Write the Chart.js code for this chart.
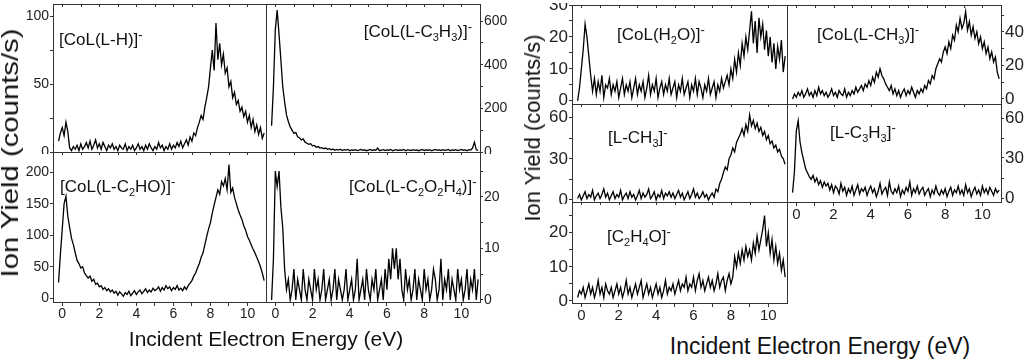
<!DOCTYPE html>
<html>
<head>
<meta charset="utf-8">
<script src="https://cdn.jsdelivr.net/npm/chart.js@4.4.0/dist/chart.umd.min.js"></script>
<style>
  body { margin: 0; width: 1024px; height: 360px; background: #fff; position: relative; overflow: hidden;
         font-family: Arial, "Liberation Sans", sans-serif; color: #111; }
  canvas { position: absolute; }
  .lbl { position: absolute; font-size: 17px; line-height: 1; white-space: nowrap; }
  .lbl sub { font-size: 11px; vertical-align: -4px; }
  .lbl sup { font-size: 13px; vertical-align: 6px; }
  .title { position: absolute; white-space: nowrap; line-height: 1; }
</style>
</head>
<body>

<div class="lbl" style="left:59px; top:28px">[CoL(L-H)]<sup>-</sup></div>
<div class="lbl" style="right:552px; top:20px">[CoL(L-C<sub>3</sub>H<sub>3</sub>)]<sup>-</sup></div>
<div class="lbl" style="left:60px; top:175px">[CoL(L-C<sub>2</sub>HO)]<sup>-</sup></div>
<div class="lbl" style="left:349px; top:175px">[CoL(L-C<sub>2</sub>O<sub>2</sub>H<sub>4</sub>)]<sup>-</sup></div>
<div class="lbl" style="left:617px; top:23px">[CoL(H<sub>2</sub>O)]<sup>-</sup></div>
<div class="lbl" style="left:817px; top:23px">[CoL(L-CH<sub>3</sub>)]<sup>-</sup></div>
<div class="lbl" style="left:608px; top:126px">[L-CH<sub>3</sub>]<sup>-</sup></div>
<div class="lbl" style="left:830px; top:121px">[L-C<sub>3</sub>H<sub>3</sub>]<sup>-</sup></div>
<div class="lbl" style="left:607px; top:225px">[C<sub>2</sub>H<sub>4</sub>O]<sup>-</sup></div>

<div class="title" style="font-size:21px; left:266px; top:328px; transform:translateX(-50%)">Incident Electron Energy (eV)</div>
<div class="title" style="font-size:23px; left:820px; top:335px; transform:translateX(-50%)">Incident Electron Energy (eV)</div>
<div class="title" style="font-size:24px; left:10px; top:153px; transform:translate(-50%,-50%) rotate(-90deg) scaleX(1.22)">Ion Yield (counts/s)</div>
<div class="title" style="font-size:22px; left:533px; top:128px; transform:translate(-50%,-50%) rotate(-90deg)">Ion Yield (counts/s)</div>

<script>
// energy grid of the scans: first point and step (eV)
const E_START = -0.2;
const E_STEP = 0.1;

const xTicks = [0, 1, 2, 3, 4, 5, 6, 7, 8, 9, 10];
const xTickLabels = [0, 2, 4, 6, 8, 10];

// ion yields, one value per 0.1 eV from -0.2 eV to 10.9 eV
const colLH = [
  8, 14, 18, 12, 22, 15, 3, 1, 4, 2,
  5, 1, 6, 2, 4, 7, 3, 8, 2, 5,
  9, 3, 6, 2, 7, 4, 1, 5, 3, 6,
  2, 4, 1, 5, 3, 2, 6, 1, 4, 2,
  5, 1, 3, 6, 2, 4, 1, 5, 2, 6,
  3, 1, 4, 2, 7, 3, 5, 1, 4, 2,
  6, 2, 5, 3, 7, 4, 8, 3, 6, 9,
  5, 11, 8, 14, 12, 18, 22, 27, 24, 33,
  40, 48, 62, 75, 60, 95, 68, 80, 64, 72,
  58, 62, 48, 52, 40, 44, 35, 38, 30, 33,
  26, 30, 22, 27, 18, 24, 15, 20, 13, 18,
  10, 14
];
const colLC3H3 = [
  120, 300, 560, 650, 540, 420, 300, 230, 170, 140,
  115, 100, 85, 90, 70, 65, 55, 60, 45, 40,
  35, 38, 28, 30, 22, 25, 18, 20, 15, 18,
  12, 15, 10, 14, 8, 12, 9, 13, 7, 11,
  9, 12, 6, 10, 8, 11, 7, 9, 12, 8,
  10, 6, 9, 12, 7, 10, 8, 18, 6, 9,
  11, 7, 10, 8, 12, 6, 9, 11, 7, 10,
  8, 12, 6, 10, 9, 7, 11, 8, 10, 6,
  9, 12, 7, 10, 8, 11, 6, 9, 12, 8,
  10, 7, 11, 8, 9, 12, 6, 10, 8, 11,
  7, 9, 12, 8, 10, 6, 11, 9, 18, 45,
  10, 8
];
const colLC2HO = [
  25, 70, 110, 150, 162, 130, 112, 95, 85, 72,
  60, 55, 48, 50, 40, 36, 32, 35, 27, 30,
  22, 24, 18, 20, 14, 17, 12, 15, 10, 13,
  8, 11, 5, 10, 7, 3, 9, 6, 11, 4,
  8, 12, 6, 10, 13, 7, 11, 15, 9, 13,
  10, 16, 12, 14, 18, 11, 17, 13, 20, 15,
  18, 12, 17, 14, 20, 13, 16, 12, 18, 14,
  20, 24, 28, 35, 40, 48, 55, 65, 72, 85,
  98, 110, 120, 135, 148, 160, 172, 165, 185, 178,
  190, 172, 212, 168, 175, 160, 150, 140, 132, 125,
  115, 108, 98, 92, 85, 78, 72, 65, 58, 50,
  40, 28
];
const colLC2O2H4 = [
  0, 8, 25, 22, 25, 18, 14, 6, 2, 4,
  0, 2, 6, 0, 4, 2, 0, 6, 2, 0,
  4, 2, 0, 6, 2, 4, 0, 2, 6, 0,
  2, 4, 0, 2, 6, 0, 4, 2, 0, 2,
  6, 0, 2, 4, 0, 2, 8, 0, 2, 4,
  0, 6, 2, 0, 4, 2, 6, 0, 2, 4,
  0, 6, 2, 8, 4, 10, 6, 10, 4, 8,
  2, 0, 6, 2, 4, 0, 2, 6, 0, 4,
  2, 0, 6, 2, 4, 0, 2, 6, 4, 0,
  2, 8, 0, 4, 2, 6, 0, 4, 2, 0,
  6, 2, 4, 0, 2, 6, 0, 4, 2, 6,
  0, 4
];
const colH2O = [
  0, 4, 10, 16, 24, 20, 14, 8, 3, 7,
  2, 6, 3, 8, 1, 5, 4, 7, 2, 5,
  3, 6, 1, 4, 7, 2, 5, 3, 6, 1,
  4, 7, 2, 5, 3, 6, 1, 4, 8, 2,
  5, 3, 7, 1, 4, 6, 2, 5, 3, 7,
  2, 4, 6, 1, 5, 3, 7, 2, 4, 6,
  1, 5, 3, 7, 2, 6, 4, 1, 5, 3,
  7, 2, 4, 6, 1, 5, 3, 7, 4, 6,
  8, 5, 10, 7, 13, 9, 15, 11, 18, 14,
  20, 16, 22, 28, 18, 25, 15, 26, 20, 24,
  16, 22, 14, 20, 12, 18, 10, 17, 13, 19,
  9, 14
];
const colLCH3 = [
  0, 3, 1, 4, 2, 5, 1, 3, 6, 2,
  4, 1, 5, 2, 7, 3, 5, 2, 4, 1,
  3, 6, 2, 4, 1, 5, 3, 2, 6, 1,
  4, 2, 5, 3, 7, 4, 6, 8, 5, 9,
  7, 11, 8, 13, 10, 16, 13, 18, 14, 12,
  9, 7, 5, 8, 3, 6, 2, 5, 1, 4,
  6, 2, 5, 3, 7, 4, 1, 5, 3, 6,
  4, 8, 6, 11, 9, 14, 12, 18, 21, 24,
  22, 28, 31, 27, 34, 30, 38, 35, 44, 40,
  48, 42, 45, 52, 41, 46, 38, 43, 36, 40,
  33, 37, 30, 34, 27, 31, 24, 28, 22, 25,
  16, 12
];
const lCH3 = [
  1, 4, 0, 3, 6, 1, 4, 2, 7, 0,
  3, 5, 1, 4, 8, 2, 5, 0, 3, 6,
  1, 4, 2, 7, 0, 3, 5, 1, 6, 2,
  4, 0, 3, 7, 1, 5, 2, 4, 8, 1,
  3, 6, 0, 4, 2, 7, 1, 5, 3, 6,
  2, 5, 1, 4, 7, 2, 5, 0, 3, 6,
  1, 4, 8, 2, 5, 1, 3, 6, 2, 4,
  0, 3, 5, 2, 8, 6, 12, 15, 20, 24,
  22, 30, 33, 38, 35, 42, 45, 48, 52, 47,
  55, 50, 62, 54, 58, 52, 56, 50, 53, 47,
  50, 44, 47, 41, 43, 38, 40, 35, 37, 32,
  30, 26
];
const lC3H3 = [
  4, 20, 50, 58, 42, 34, 28, 22, 19, 16,
  14, 17, 12, 15, 10, 13, 8, 12, 9, 11,
  6, 10, 4, 9, 7, 3, 11, 5, 8, 2,
  7, 4, 9, 2, 6, 10, 3, 7, 5, 8,
  2, 6, 9, 4, 7, 1, 5, 11, 3, 6,
  8, 2, 12, 5, 3, 7, 4, 9, 1, 6,
  3, 8, 5, 12, 2, 7, 4, 9, 3, 6,
  8, 2, 5, 7, 1, 6, 3, 9, 4, 2,
  6, 3, 7, 1, 5, 8, 2, 6, 4, 9,
  3, 6, 2, 10, 4, 7, 1, 5, 8, 3,
  6, 2, 9, 4, 7, 3, 8, 5, 2, 7,
  4, 6
];
const c2H4O = [
  1, 3, 2, 4, 1, 3, 5, 2, 4, 1,
  3, 6, 2, 4, 1, 5, 3, 2, 4, 1,
  3, 5, 2, 4, 1, 3, 6, 2, 4, 1,
  3, 5, 2, 4, 6, 1, 3, 5, 2, 4,
  1, 3, 5, 2, 4, 1, 3, 6, 2, 4,
  3, 5, 2, 4, 6, 3, 5, 4, 7, 3,
  5, 4, 7, 3, 6, 8, 4, 6, 3, 5,
  7, 4, 6, 3, 5, 8, 4, 6, 7, 3,
  6, 8, 5, 7, 13, 10, 14, 11, 15, 12,
  16, 13, 15, 12, 17, 14, 19, 15, 18, 21,
  25, 16, 20, 14, 18, 12, 16, 11, 14, 9,
  12, 7
];

const Y_AXIS_W = 45;
const X_AXIS_H = 26;
const PAD = 2;

const panels = [
  { data: colLH, left: 53, top: 4, w: 213, h: 148, yMin: 0, yMax: 109,
    yTicks: [0, 25, 50, 75, 100], yLabels: [0, 50, 100], side: "left", xAxis: false, yFont: 14, xFont: 14 },
  { data: colLC3H3, left: 266, top: 4, w: 214, h: 148, yMin: 0, yMax: 678,
    yTicks: [0, 100, 200, 300, 400, 500, 600], yLabels: [0, 200, 400, 600], side: "right", xAxis: false, yFont: 14, xFont: 14 },
  { data: colLC2HO, left: 53, top: 152, w: 213, h: 150, yMin: -6, yMax: 232,
    yTicks: [0, 50, 100, 150, 200], yLabels: [0, 50, 100, 150, 200], side: "left", xAxis: true, yFont: 14, xFont: 14 },
  { data: colLC2O2H4, left: 266, top: 152, w: 214, h: 150, yMin: -0.4, yMax: 28.7,
    yTicks: [0, 5, 10, 15, 20, 25], yLabels: [0, 10, 20], side: "right", xAxis: true, yFont: 14, xFont: 14 },
  { data: colH2O, left: 572, top: 5, w: 215, h: 99, yMin: -1, yMax: 30,
    yTicks: [0, 5, 10, 15, 20, 25, 30], yLabels: [0, 10, 20, 30], side: "left", xAxis: false, yFont: 17, xFont: 15 },
  { data: colLCH3, left: 787, top: 5, w: 214, h: 99, yMin: -3, yMax: 56,
    yTicks: [0, 10, 20, 30, 40, 50], yLabels: [0, 20, 40], side: "right", xAxis: false, yFont: 17, xFont: 15 },
  { data: lCH3, left: 572, top: 104, w: 215, h: 98, yMin: -1.5, yMax: 70,
    yTicks: [0, 15, 30, 45, 60], yLabels: [0, 30, 60], side: "left", xAxis: false, yFont: 17, xFont: 15 },
  { data: lC3H3, left: 787, top: 104, w: 214, h: 98, yMin: -3, yMax: 70.5,
    yTicks: [0, 15, 30, 45, 60], yLabels: [0, 30, 60], side: "right", xAxis: true, yFont: 17, xFont: 15 },
  { data: c2H4O, left: 572, top: 202, w: 215, h: 101, yMin: -0.6, yMax: 29,
    yTicks: [0, 5, 10, 15, 20, 25], yLabels: [0, 10, 20], side: "left", xAxis: true, yFont: 17, xFont: 15 }
];

Chart.defaults.font.family = 'Arial, "Liberation Sans", sans-serif';
Chart.defaults.color = "#222";

// box round the plot area plus short inward ticks on the top edge
const framePlugin = {
  id: "frame",
  afterDraw(chart) {
    const { ctx, chartArea: a, scales } = chart;
    ctx.save();
    ctx.strokeStyle = "#333";
    ctx.lineWidth = 1;
    ctx.strokeRect(a.left + 0.5, a.top + 0.5, a.right - a.left, a.bottom - a.top);
    ctx.beginPath();
    xTicks.forEach(v => {
      const px = Math.round(scales.x.getPixelForValue(v)) + 0.5;
      ctx.moveTo(px, a.top);
      ctx.lineTo(px, a.top + 3);
    });
    ctx.stroke();
    ctx.restore();
  }
};

function makePanel(p) {
  const canvas = document.createElement("canvas");
  const boxLeft = p.left - (p.side === "left" ? Y_AXIS_W : PAD);
  const boxTop = p.top - PAD;
  canvas.width = p.w + Y_AXIS_W + PAD;
  canvas.height = p.h + PAD + (p.xAxis ? X_AXIS_H : PAD);
  canvas.style.left = boxLeft + "px";
  canvas.style.top = boxTop + "px";
  document.body.insertBefore(canvas, document.body.firstChild);

  new Chart(canvas.getContext("2d"), {
    type: "line",
    data: {
      datasets: [{
        data: p.data.map((v, i) => ({ x: E_START + i * E_STEP, y: v })),
        borderColor: "#000",
        borderWidth: 1.3,
        pointRadius: 0,
        tension: 0,
        fill: false
      }]
    },
    options: {
      responsive: false,
      animation: false,
      events: [],
      layout: {
        autoPadding: false,
        padding: {
          left: p.side === "left" ? 0 : PAD,
          right: p.side === "right" ? 0 : PAD,
          top: PAD,
          bottom: p.xAxis ? 0 : PAD
        }
      },
      plugins: { legend: { display: false }, tooltip: { enabled: false } },
      scales: {
        x: {
          type: "linear",
          min: -0.5,
          max: 11,
          display: p.xAxis,
          afterFit: s => {
            s.height = p.xAxis ? X_AXIS_H : 0;
            s.paddingLeft = 0;
            s.paddingRight = 0;
          },
          afterBuildTicks: s => { s.ticks = xTicks.map(v => ({ value: v })); },
          border: { display: false },
          grid: { drawOnChartArea: false, color: "#333", tickLength: 4 },
          ticks: {
            autoSkip: false,
            maxRotation: 0,
            padding: 0,
            font: { size: p.xFont },
            callback: v => xTickLabels.includes(v) ? String(v) : ""
          }
        },
        y: {
          type: "linear",
          position: p.side,
          min: p.yMin,
          max: p.yMax,
          afterFit: s => {
            s.width = Y_AXIS_W;
            s.paddingTop = 0;
            s.paddingBottom = 0;
          },
          afterBuildTicks: s => { s.ticks = p.yTicks.map(v => ({ value: v })); },
          border: { display: false },
          grid: { drawOnChartArea: false, color: "#333", tickLength: 3 },
          ticks: {
            autoSkip: false,
            padding: 1,
            font: { size: p.yFont },
            callback: v => p.yLabels.includes(v) ? String(v) : ""
          }
        }
      }
    },
    plugins: [framePlugin]
  });
}

panels.forEach(makePanel);
</script>
</body>
</html>
